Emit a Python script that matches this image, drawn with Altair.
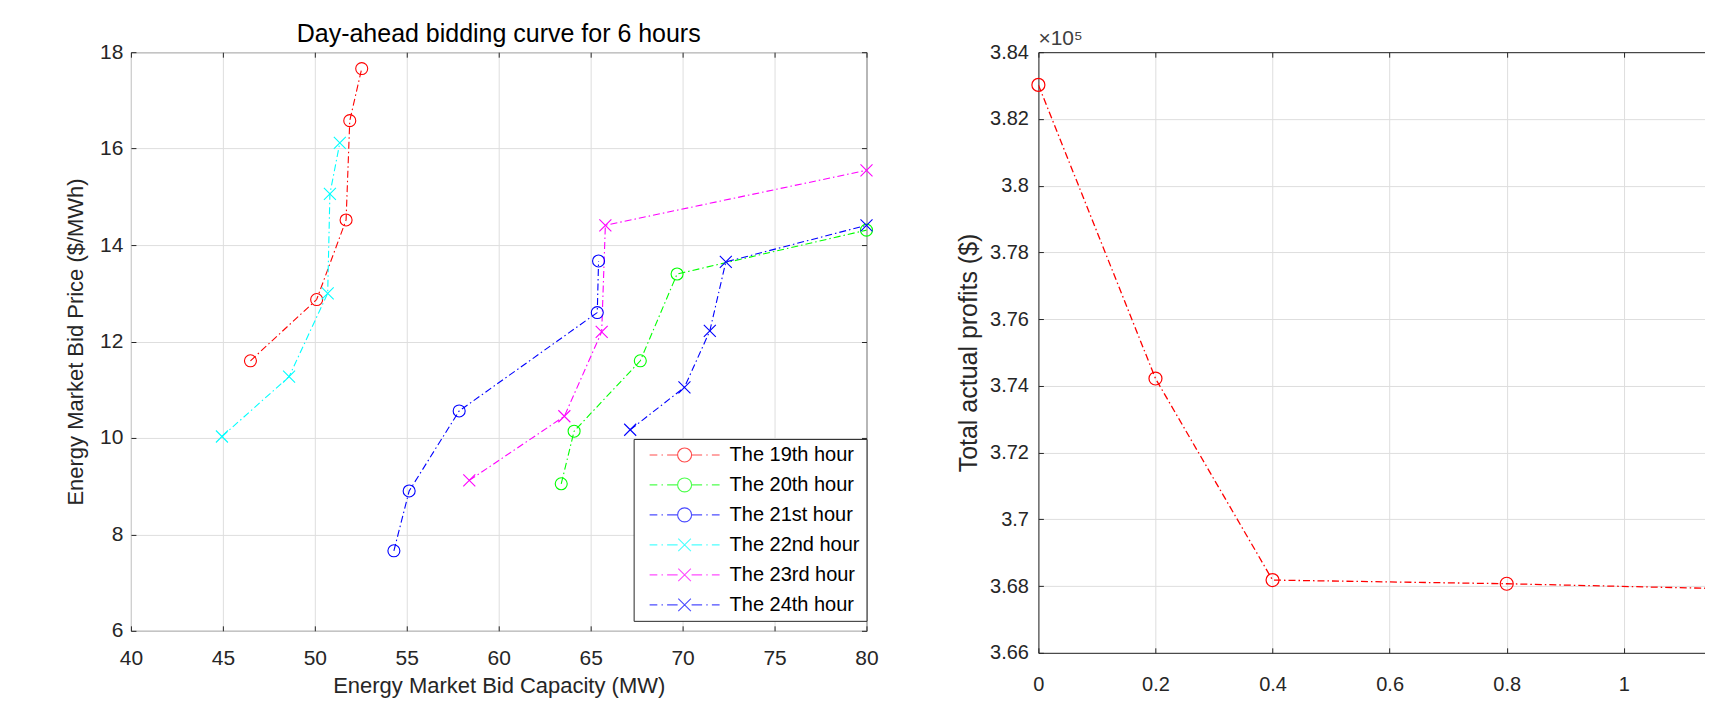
import altair as alt
import pandas as pd

FONT = "Liberation Sans, Arial, Helvetica, sans-serif"
INK = "#262626"
GRID = "#dedede"
TICK = 5

# ---------------- left panel data ----------------
series_names = ["The 19th hour", "The 20th hour", "The 21st hour",
                "The 22nd hour", "The 23rd hour", "The 24th hour"]
series_colors = ["#ff0000", "#00ff00", "#0000ff", "#00ffff", "#ff00ff", "#0000ff"]
series_markers = ["o", "o", "o", "x", "x", "x"]

cap_19 = [46.5, 50.1, 51.7, 51.9, 52.55]
price_19 = [11.6, 12.87, 14.52, 16.58, 17.66]
cap_20 = [63.4, 64.1, 67.7, 69.7, 80.0]
price_20 = [9.05, 10.14, 11.6, 13.4, 14.31]
cap_21 = [54.3, 55.13, 57.85, 65.36, 65.43]
price_21 = [7.66, 8.9, 10.56, 12.6, 13.67]
cap_22 = [44.95, 48.6, 50.7, 50.82, 51.36]
price_22 = [10.03, 11.27, 13.0, 15.06, 16.12]
cap_23 = [58.4, 63.57, 65.6, 65.8, 80.0]
price_23 = [9.12, 10.45, 12.2, 14.41, 15.55]
cap_24 = [67.15, 70.1, 71.48, 72.35, 80.0]
price_24 = [10.17, 11.05, 12.22, 13.65, 14.41]

x1_ticks = [40, 45, 50, 55, 60, 65, 70, 75, 80]
y1_ticks = [6, 8, 10, 12, 14, 16, 18]

# ---------------- right panel data ----------------
weight = [0, 0.2, 0.4, 0.8, 1.2]
profit = [383020, 374220, 368180, 368070, 367910]
x2_ticks = [0, 0.2, 0.4, 0.6, 0.8, 1.0]
y2_ticks = [366000, 368000, 370000, 372000, 374000, 376000, 378000, 380000, 382000, 384000]
X2_MAX = 1.1387

# ---------------- build tables ----------------
cap_lists = [cap_19, cap_20, cap_21, cap_22, cap_23, cap_24]
price_lists = [price_19, price_20, price_21, price_22, price_23, price_24]
rows = []
for name, mk, caps, prices in zip(series_names, series_markers, cap_lists, price_lists):
    for i, (c, p) in enumerate(zip(caps, prices)):
        rows.append({"series": name, "marker": mk, "cap": c, "price": p, "idx": i})
bid = pd.DataFrame(rows)
prof = pd.DataFrame({"w": weight, "profit": profit})

X_PATH = "M-1,-1L1,1M-1,1L1,-1"
LINE_PART = ("M-5,0L-3.9,0M-3.3,0L-3.1,0M-2.5,0L-1,0"
             "M1,0L2.5,0M3.1,0L3.3,0M3.9,0L5,0")
LEG_O = LINE_PART + "M1,0A1,1,0,1,1,-1,0A1,1,0,1,1,1,0"
LEG_X = LINE_PART + "M-0.9,-0.9L0.9,0.9M-0.9,0.9L0.9,-0.9"
legend_paths = [LEG_O if m == "o" else LEG_X for m in series_markers]

DASH = [7, 3, 1.5, 3]


def tick_axis(orient, values):
    return alt.Axis(orient=orient, offset=-TICK, values=values, tickSize=TICK,
                    ticks=True, tickColor=INK, tickWidth=1, domain=False,
                    labels=False, grid=False, title=None)


# ---------------- left chart ----------------
W1, H1 = 736, 579
xs1 = alt.Scale(domain=[40, 80], nice=False, zero=False)
ys1 = alt.Scale(domain=[6, 18], nice=False, zero=False)
col = alt.Scale(domain=series_names, range=series_colors)

ax_x1 = alt.Axis(orient="bottom", values=x1_ticks, title="Energy Market Bid Capacity (MW)",
                 grid=True, gridColor=GRID, domain=False, ticks=False, labelFlush=False,
                 labelOverlap=False, labelPadding=17, labelFontSize=21, labelColor=INK,
                 labelFont=FONT, titleFont=FONT, titleFontSize=22, titleColor=INK,
                 titleFontWeight="normal", titlePadding=7)
ax_y1 = alt.Axis(orient="left", values=y1_ticks, title="Energy Market Bid Price ($/MWh)",
                 grid=True, gridColor=GRID, domain=False, ticks=False,
                 labelOverlap=False, labelPadding=8, labelFontSize=21, labelColor=INK,
                 labelFont=FONT, titleFont=FONT, titleFontSize=22, titleColor=INK,
                 titleFontWeight="normal", titlePadding=12)

base = alt.Chart(bid)

leg = alt.Legend(title=None, orient="none", legendX=503, legendY=387, direction="vertical",
                 fillColor="white", strokeColor=INK, padding=6, rowPadding=10,
                 symbolSize=196, symbolStrokeWidth=1.1, symbolOffset=35, labelOffset=35,
                 labelFontSize=20, labelFont=FONT, labelColor="black", labelLimit=300)
legend_layer = base.transform_filter("false").mark_point(
    filled=False, size=196, strokeWidth=1.1
).encode(
    x=alt.X("cap:Q", scale=xs1, axis=None),
    y=alt.Y("price:Q", scale=ys1, axis=None),
    color=alt.Color("series:N", scale=col, legend=leg),
    shape=alt.Shape("series:N", scale=alt.Scale(domain=series_names, range=legend_paths), legend=leg),
)

lines = base.mark_line(strokeDash=DASH, strokeWidth=1.1).encode(
    x=alt.X("cap:Q", scale=xs1, axis=ax_x1),
    y=alt.Y("price:Q", scale=ys1, axis=ax_y1),
    color=alt.Color("series:N", scale=col, legend=None),
    order=alt.Order("idx:Q"),
)
circles = base.transform_filter(alt.datum.marker == "o").mark_point(
    shape="circle", filled=False, size=144, strokeWidth=1.1, opacity=1
).encode(
    x=alt.X("cap:Q", scale=xs1, axis=tick_axis("bottom", x1_ticks)),
    y=alt.Y("price:Q", scale=ys1, axis=tick_axis("left", y1_ticks)),
    color=alt.Color("series:N", scale=col, legend=None),
)
crosses = base.transform_filter(alt.datum.marker == "x").mark_point(
    shape=X_PATH, filled=False, size=144, strokeWidth=1.1, opacity=1
).encode(
    x=alt.X("cap:Q", scale=xs1, axis=tick_axis("top", x1_ticks)),
    y=alt.Y("price:Q", scale=ys1, axis=tick_axis("right", y1_ticks)),
    color=alt.Color("series:N", scale=col, legend=None),
)

left = alt.layer(legend_layer, lines, circles, crosses).resolve_axis(
    x="independent", y="independent"
).properties(
    width=W1, height=H1,
    title=alt.TitleParams("Day-ahead bidding curve for 6 hours", anchor="middle", frame="group",
                          fontSize=25, font=FONT, fontWeight="normal", color="black", offset=-6),
    view=alt.ViewBackground(stroke=INK, strokeWidth=1),
)

# ---------------- right chart ----------------
W2, H2 = 667, 601
xs2 = alt.Scale(domain=[0, X2_MAX], nice=False, zero=False)
ys2 = alt.Scale(domain=[366000, 384000], nice=False, zero=False)

ax_x2 = alt.Axis(orient="bottom", values=x2_ticks, title=None, format="~g",
                 grid=True, gridColor=GRID, domain=True, domainColor=INK, ticks=False,
                 labelFlush=False, labelOverlap=False, labelPadding=22, labelFontSize=20,
                 labelColor=INK, labelFont=FONT)
ax_y2 = alt.Axis(orient="left", values=y2_ticks, title="Total actual profits ($)",
                 labelExpr="format(datum.value / 100000, '.2~f')",
                 grid=True, gridColor=GRID, domain=True, domainColor=INK, ticks=False,
                 labelOverlap=False, labelPadding=10, labelFontSize=20, labelColor=INK,
                 labelFont=FONT, titleFont=FONT, titleFontSize=25, titleColor=INK,
                 titleFontWeight="normal", titlePadding=8)

pbase = alt.Chart(prof)
pline = pbase.mark_line(strokeDash=DASH, strokeWidth=1.3, color="#ff0000", clip=True).encode(
    x=alt.X("w:Q", scale=xs2, axis=ax_x2),
    y=alt.Y("profit:Q", scale=ys2, axis=ax_y2),
)
ppts = pbase.transform_filter(alt.datum.w <= X2_MAX).mark_point(
    shape="circle", filled=False, size=169, strokeWidth=1.2, color="#ff0000", opacity=1
).encode(
    x=alt.X("w:Q", scale=xs2, axis=tick_axis("bottom", x2_ticks)),
    y=alt.Y("profit:Q", scale=ys2, axis=tick_axis("left", y2_ticks)),
)
top_border = pbase.transform_filter("false").mark_point().encode(
    x=alt.X("w:Q", scale=xs2, axis=alt.Axis(orient="top", values=x2_ticks, domain=True,
                                            domainColor=INK, ticks=False, labels=False,
                                            grid=False, title=None)),
    y=alt.Y("profit:Q", scale=ys2, axis=None),
)
top_ticks = pbase.transform_filter("false").mark_point().encode(
    x=alt.X("w:Q", scale=xs2, axis=tick_axis("top", x2_ticks)),
    y=alt.Y("profit:Q", scale=ys2, axis=None),
)

right = alt.layer(pline, ppts, top_border, top_ticks).resolve_axis(
    x="independent", y="independent"
).properties(
    width=W2, height=H2,
    title=alt.TitleParams("×10⁵", anchor="start", frame="group", fontSize=21, font=FONT,
                          fontWeight="normal", color="#404040", offset=-7),
    view=alt.ViewBackground(stroke="transparent", strokeWidth=0),
)

chart = alt.hconcat(left, right, spacing=77).properties(
    padding={"left": 56, "top": 13, "right": 0, "bottom": 0},
    background="white",
)

chart.save("out.html", embed_options={"renderer": "svg", "actions": False})
